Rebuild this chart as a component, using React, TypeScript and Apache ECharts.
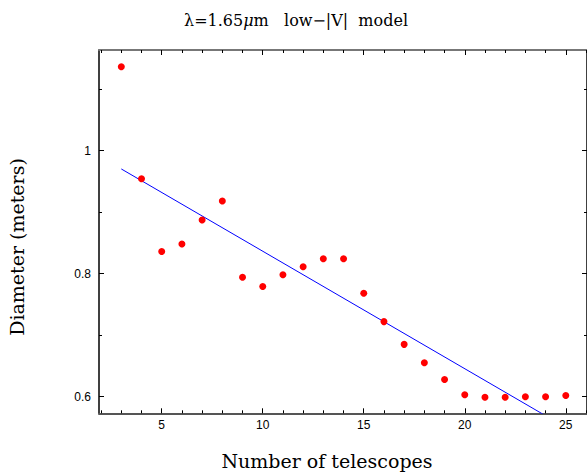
import React, { useEffect, useRef } from "react";
import * as echarts from "echarts";

const telescopes = [3, 4, 5, 6, 7, 8, 9, 10, 11, 12, 13, 14, 15, 16, 17, 18, 19, 20, 21, 22, 23, 24, 25];
const diameters = [1.136, 0.954, 0.836, 0.848, 0.887, 0.918, 0.794, 0.779, 0.798, 0.811, 0.824, 0.824, 0.768, 0.722, 0.685, 0.655, 0.628, 0.603, 0.599, 0.599, 0.6, 0.6, 0.602];
const fitX = [3, 25];
const fitY = [0.97, 0.55];
const xMajorTicks = [5, 10, 15, 20, 25];
const xMinorTicks = [2, 3, 4, 6, 7, 8, 9, 11, 12, 13, 14, 16, 17, 18, 19, 21, 22, 23, 24, 26];
const yMajorTicks = [0.6, 0.8, 1.0];
const yMinorTicks = [0.7, 0.9, 1.1];

const X_MIN = 1.896;
const X_MAX = 26.05;
const Y_MIN = 0.573;
const Y_MAX = 1.1633;

const SERIF = "DejaVu Serif";
const SANS = "Liberation Sans";

export default function App() {
  const ref = useRef<HTMLDivElement>(null);
  useEffect(() => {
    if (!ref.current) return;
    const chart = echarts.init(ref.current, undefined, { renderer: "svg" });
    const gridRect = { left: 99, right: 0, top: 50, bottom: 58.7, containLabel: false };
    const xAx = (gridIndex: number, position: "bottom" | "top", ticks: number[], len: number, showLabels: boolean, lineShow: boolean, lineColor: string) => ({
      type: "value",
      gridIndex,
      position,
      min: X_MIN,
      max: X_MAX,
      splitLine: { show: false },
      axisLine: { show: lineShow, onZero: false, lineStyle: { color: lineColor, width: 2 } },
      axisTick: { show: true, inside: true, length: len, customValues: ticks, lineStyle: { color: "#000", width: 1 } },
      axisLabel: {
        show: showLabels,
        customValues: ticks,
        margin: 6,
        color: "#000",
        fontFamily: SANS,
        fontSize: 12,
      },
    });
    const yAx = (gridIndex: number, position: "left" | "right", ticks: number[], len: number, showLabels: boolean, lineShow: boolean, lineColor: string) => ({
      type: "value",
      gridIndex,
      position,
      min: Y_MIN,
      max: Y_MAX,
      splitLine: { show: false },
      axisLine: { show: lineShow, onZero: false, lineStyle: { color: lineColor, width: 1.5 } },
      axisTick: { show: true, inside: true, length: len, customValues: ticks, lineStyle: { color: "#000", width: 1 } },
      axisLabel: {
        show: showLabels,
        customValues: ticks,
        margin: 8,
        color: "#000",
        fontFamily: SANS,
        fontSize: 12,
        formatter: (v: number) => String(Math.round(v * 10) / 10),
      },
    });
    const option: any = {
      animation: false,
      backgroundColor: "#fff",
      title: {
        text: "{a|λ=1.65}{i|μ}{a|m   low−|V|  model}",
        left: 291,
        textAlign: "center",
        top: 7,
        textStyle: {
          fontWeight: "normal",
          rich: {
            a: { fontFamily: SERIF, fontSize: 16, fontWeight: "normal", color: "#000" },
            i: { fontFamily: SERIF, fontSize: 16, fontWeight: "normal", fontStyle: "italic", color: "#000" },
          },
        },
      },
      grid: [gridRect, { ...gridRect }],
      xAxis: [
        xAx(0, "bottom", xMajorTicks, 5, true, true, "#555"),
        xAx(0, "top", xMajorTicks, 5, false, true, "#777"),
        xAx(1, "bottom", xMinorTicks, 3, false, false, "#555"),
        xAx(1, "top", xMinorTicks, 3, false, false, "#777"),
      ],
      yAxis: [
        yAx(0, "left", yMajorTicks, 5, true, true, "#000"),
        yAx(0, "right", yMajorTicks, 5, false, true, "#000"),
        yAx(1, "left", yMinorTicks, 3, false, false, "#000"),
        yAx(1, "right", yMinorTicks, 3, false, false, "#000"),
      ],
      graphic: [
        {
          type: "text",
          x: 327,
          y: 461,
          style: {
            text: "Number of telescopes",
            fontFamily: SERIF,
            fontSize: 19,
            fill: "#000",
            align: "center",
            verticalAlign: "middle",
          },
        },
        {
          type: "text",
          x: 17,
          y: 247,
          rotation: Math.PI / 2,
          style: {
            text: "Diameter (meters)",
            fontFamily: SERIF,
            fontSize: 19,
            fill: "#000",
            align: "center",
            verticalAlign: "middle",
          },
        },
      ],
      series: [
        {
          type: "line",
          xAxisIndex: 0,
          yAxisIndex: 0,
          data: fitX.map((x, i) => [x, fitY[i]]),
          showSymbol: false,
          symbol: "none",
          clip: true,
          lineStyle: { color: "#0000ff", width: 1 },
          z: 2,
        },
        {
          type: "scatter",
          xAxisIndex: 0,
          yAxisIndex: 0,
          data: telescopes.map((x, i) => [x, diameters[i]]),
          symbol: "circle",
          symbolSize: 7,
          itemStyle: { color: "#ff0000", opacity: 1 },
          z: 3,
        },
      ],
    };
    chart.setOption(option);
    return () => chart.dispose();
  }, []);
  return (
    <div
      ref={ref}
      style={{ position: "fixed", left: 0, top: 0, width: 587, height: 472, background: "#fff" }}
    />
  );
}
